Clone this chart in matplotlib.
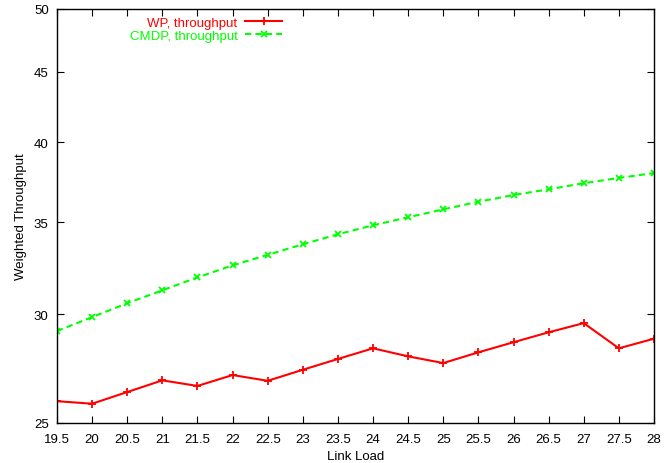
import matplotlib
matplotlib.use("Agg")
import matplotlib.pyplot as plt
from matplotlib.ticker import FixedLocator, NullLocator, FixedFormatter

plt.rcParams['font.family'] = ['Liberation Sans', 'DejaVu Sans']

link_load = [19.5, 20, 20.5, 21, 21.5, 22, 22.5, 23, 23.5, 24, 24.5, 25, 25.5, 26, 26.5, 27, 27.5, 28]
wp = [25.93, 25.82, 26.33, 26.85, 26.60, 27.09, 26.83, 27.33, 27.83, 28.33, 27.95, 27.64, 28.14, 28.62, 29.10, 29.55, 28.33, 28.79]
cmdp = [29.16, 29.85, 30.55, 31.22, 31.90, 32.55, 33.13, 33.72, 34.29, 34.81, 35.28, 35.75, 36.21, 36.62, 36.97, 37.35, 37.68, 37.99]
y_ticks = [25, 30, 35, 40, 45, 50]
x_tick_labels = ["19.5", "20", "20.5", "21", "21.5", "22", "22.5", "23", "23.5", "24",
                 "24.5", "25", "25.5", "26", "26.5", "27", "27.5", "28"]

fig = plt.figure(figsize=(6.7, 4.64), dpi=100)
ax = fig.add_axes([57/670, 1-424/464, (654-57)/670, (424-10)/464])

ax.plot(link_load, wp, color='#ff0000', lw=1.5, marker='+', ms=6, mew=1.3,
        label='WP, throughput')
ax.plot(link_load, cmdp, color='#00ff00', lw=1.5, ls=(0, (3, 2)), marker='x', ms=5, mew=1.3,
        label='CMDP, throughput')

ax.set_yscale('log')
ax.set_ylim(25, 50)
ax.set_xlim(19.5, 28)
ax.yaxis.set_major_locator(FixedLocator(y_ticks))
ax.yaxis.set_major_formatter(FixedFormatter([str(v) for v in y_ticks]))
ax.yaxis.set_minor_locator(NullLocator())
ax.set_xticks(link_load)
ax.set_xticklabels(x_tick_labels)

ax.tick_params(direction='in', top=True, right=True, length=5, width=0.8, labelsize=9.5)
ax.tick_params(axis='x', pad=7)
ax.tick_params(axis='y', pad=6)
for s in ax.spines.values():
    s.set_linewidth(1.0)

ax.set_xlabel('Link Load', fontsize=9.5, labelpad=4)
ax.set_ylabel('Weighted Throughput', fontsize=9.5, labelpad=5)

leg = ax.legend(loc='upper right', bbox_to_anchor=(289/670, 1-11/464), bbox_transform=fig.transFigure,
                frameon=False, markerfirst=False, fontsize=9.5, handlelength=2.8,
                labelspacing=0.05, borderpad=0, handletextpad=0.6, labelcolor='linecolor')
for t in leg.get_texts():
    t.set_ha('right')

fig.savefig('out.png', dpi=100)
